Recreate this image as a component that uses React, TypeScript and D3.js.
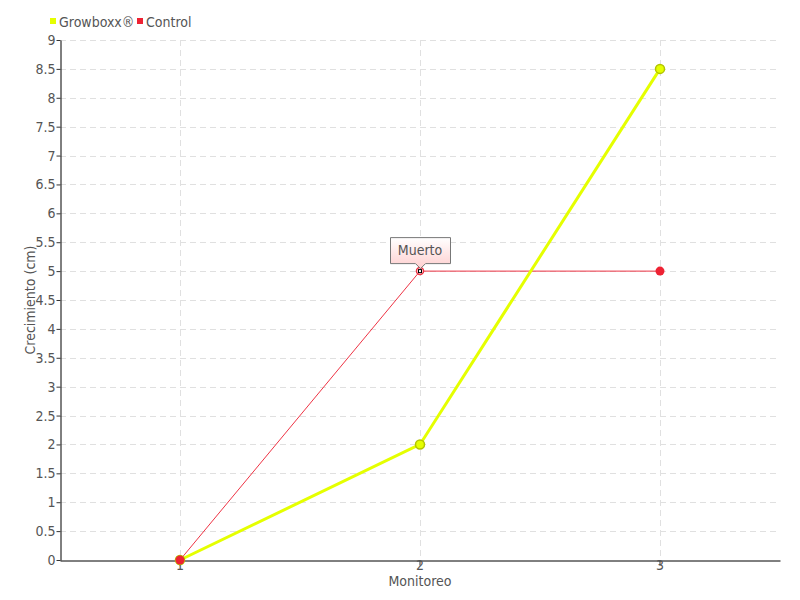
import React, { useEffect, useRef } from "react";
import * as d3 from "d3";

const categories = ["1", "2", "3"];
const growboxx = [0, 2, 8.5];
const control = [0, 5, 5];
const yTicks = d3.range(0, 9.01, 0.5);
const annotation = { index: 1, text: "Muerto" };

const W = 800, H = 600;
const M = { left: 60, right: 20, top: 40, bottom: 40 };
const FONT = "'DejaVu Sans Condensed', 'Liberation Sans Narrow', sans-serif";

export default function App() {
  const ref = useRef<SVGSVGElement>(null);
  useEffect(() => {
    const svg = d3.select(ref.current);
    svg.selectAll("*").remove();
    const x = d3.scaleBand().domain(categories).range([M.left, W - M.right]);
    const y = d3.scaleLinear().domain([0, 9]).range([H - M.bottom, M.top]);
    const cx = (i: number) => (x(categories[i]) as number) + x.bandwidth() / 2;

    const defs = svg.append("defs");
    const grad = defs.append("linearGradient").attr("id", "tip").attr("x1", 0).attr("y1", 0).attr("x2", 0).attr("y2", 1);
    grad.append("stop").attr("offset", "0%").attr("stop-color", "#ffffff");
    grad.append("stop").attr("offset", "100%").attr("stop-color", "#ffcfcf");

    // grid
    const g = svg.append("g");
    g.selectAll("line.h").data(yTicks.slice(1)).enter().append("line")
      .attr("x1", M.left).attr("x2", W - M.right)
      .attr("y1", d => Math.round(y(d)) + 0.5).attr("y2", d => Math.round(y(d)) + 0.5)
      .attr("stroke", "#e0e0e0").attr("stroke-dasharray", "6,4");
    g.selectAll("line.v").data(categories).enter().append("line")
      .attr("x1", (d, i) => cx(i) + 0.5).attr("x2", (d, i) => cx(i) + 0.5)
      .attr("y1", M.top).attr("y2", H - M.bottom)
      .attr("stroke", "#e0e0e0").attr("stroke-dasharray", "6,4");

    // axes
    const yAxis = svg.append("g").attr("transform", `translate(${M.left + 0.5},0)`)
      .call(d3.axisLeft(y).tickValues(yTicks).tickSize(4).tickSizeOuter(0).tickFormat(d => d3.format("")(d as number)));
    yAxis.select(".domain").attr("stroke", "#000");
    yAxis.selectAll(".tick line").attr("stroke", "#333");
    yAxis.selectAll(".tick text").attr("fill", "#555").style("font-family", FONT).style("font-size", "14px").attr("x", -5);

    const xAxis = svg.append("g").attr("transform", `translate(0,${H - M.bottom + 0.5})`)
      .call(d3.axisBottom(x).tickSize(5).tickSizeOuter(0));
    xAxis.select(".domain").attr("stroke", "#000");
    xAxis.selectAll(".tick line").attr("stroke", "#333");
    xAxis.selectAll(".tick text").attr("fill", "#555").style("font-family", FONT).style("font-size", "14px").attr("y", 0);

    svg.append("text").attr("x", (M.left + W - M.right) / 2).attr("y", 586).attr("text-anchor", "middle")
      .attr("fill", "#555").style("font-family", FONT).style("font-size", "14px").text("Monitoreo");
    svg.append("text").attr("transform", `translate(35,300) rotate(-90)`).attr("text-anchor", "middle")
      .attr("fill", "#555").style("font-family", FONT).style("font-size", "14px").text("Crecimiento (cm)");

    // lines
    const line = d3.line<number>().x((d, i) => cx(i)).y(d => y(d));
    svg.append("path").datum(control).attr("d", line).attr("fill", "none").attr("stroke", "#ee3344").attr("stroke-width", 1);
    svg.append("path").datum(growboxx).attr("d", line).attr("fill", "none").attr("stroke", "#e5ff00").attr("stroke-width", 3);

    svg.selectAll("circle.g").data(growboxx).enter().append("circle")
      .attr("cx", (d, i) => cx(i)).attr("cy", d => y(d)).attr("r", 4.5)
      .attr("fill", "#e5ff00").attr("stroke", "#b3c400").attr("stroke-width", 1.5);

    const ctrlPts = control.map((v, i) => ({ v, i })).filter(p => p.i !== annotation.index);
    svg.selectAll("circle.c").data(ctrlPts).enter().append("circle")
      .attr("cx", p => cx(p.i)).attr("cy", p => y(p.v)).attr("r", 4.5)
      .attr("fill", "#ee2233");

    // annotated point
    const ax = cx(annotation.index), ay = y(control[annotation.index]);
    svg.append("circle").attr("cx", ax).attr("cy", ay).attr("r", 3.5).attr("fill", "#fff").attr("stroke", "#ee3344").attr("stroke-width", 1.5);
    svg.append("rect").attr("x", ax - 1.5).attr("y", ay - 1.5).attr("width", 3).attr("height", 3).attr("fill", "#fff").attr("stroke", "#000").attr("stroke-width", 1);
    const bw = 60, bh = 26, by = ay - 34;
    const path = `M${ax - bw / 2 + 0.5},${by + 0.5} h${bw} v${bh} h${-bw / 2 + 5} l-5,5 l-5,-5 h${-bw / 2 + 5} Z`;
    svg.append("path").attr("d", path).attr("fill", "url(#tip)").attr("stroke", "#777").attr("stroke-width", 1);
    svg.append("text").attr("x", ax).attr("y", by + 18).attr("text-anchor", "middle").attr("fill", "#555")
      .style("font-family", FONT).style("font-size", "14px").text(annotation.text);

    // legend
    const leg = [{ name: "Growboxx®", color: "#e5ff00", x: 50 }, { name: "Control", color: "#ee2233", x: 137 }];
    leg.forEach(l => {
      svg.append("rect").attr("x", l.x).attr("y", 18).attr("width", 6).attr("height", 6).attr("fill", l.color);
      svg.append("text").attr("x", l.x + 9).attr("y", 27).attr("fill", "#555")
        .style("font-family", FONT).style("font-size", "14px").text(l.name);
    });
  }, []);
  return <svg ref={ref} width={W} height={H} style={{ position: "absolute", left: 0, top: 0, background: "#fff" }} />;
}
